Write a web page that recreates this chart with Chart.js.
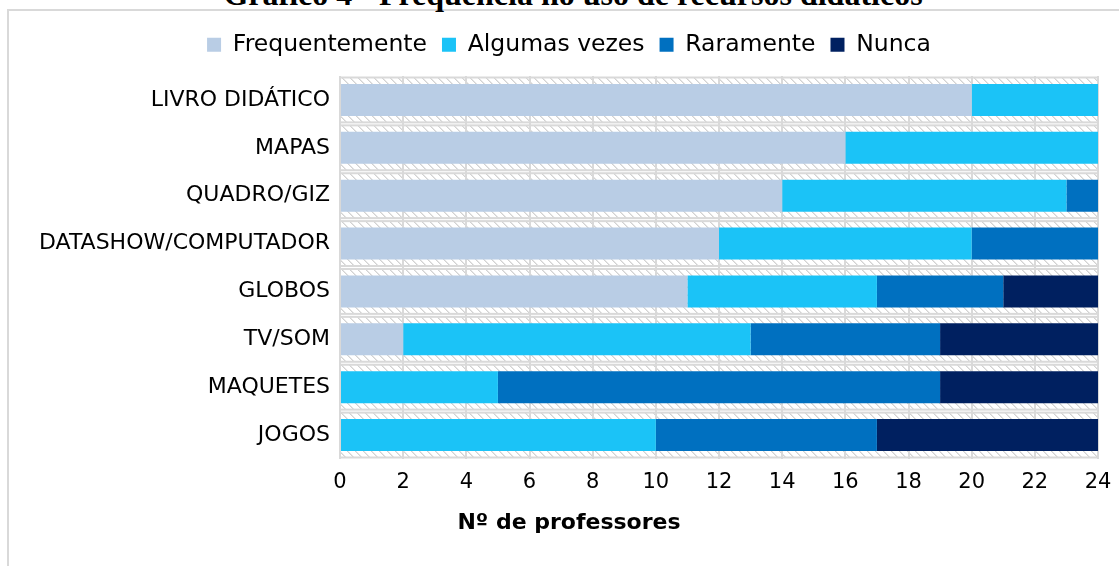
<!DOCTYPE html>
<html><head><meta charset="utf-8">
<script src="https://cdn.jsdelivr.net/npm/chart.js@4/dist/chart.umd.min.js"></script>
<style>
html,body{margin:0;padding:0;background:#fff;overflow:hidden;width:1119px;height:566px;}
#frame{position:absolute;left:7px;top:9px;width:1200px;height:700px;border:2px solid #d9d9d9;box-sizing:border-box;}
#title{position:absolute;left:0;width:1146px;top:-22px;text-align:center;font:bold 32px "Liberation Serif",serif;line-height:32px;color:#000;white-space:nowrap;}
#wrap{position:absolute;left:0;top:0;width:1119px;height:566px;}
</style></head><body>
<div id="frame"></div>
<div id="title">Gráfico 4 - Frequência no uso de recursos didáticos</div>
<div id="wrap"><canvas id="c" width="1119" height="566"></canvas></div>
<script>
const categories = ['LIVRO DIDÁTICO','MAPAS','QUADRO/GIZ','DATASHOW/COMPUTADOR','GLOBOS','TV/SOM','MAQUETES','JOGOS'];
const seriesNames = ['Frequentemente','Algumas vezes','Raramente','Nunca'];
const frequentemente = [20,16,14,12,11,2,0,0];
const algumasVezes   = [4,8,9,8,6,11,5,10];
const raramente      = [0,0,1,4,4,6,14,7];
const nunca          = [0,0,0,0,3,5,5,7];
const xMin = 0, xMax = 24, xStep = 2;
const axisTitle = 'Nº de professores';
const colors = ['#B9CDE5','#1BC3F7','#0070C0','#002060'];

// hatch pattern for the plot background bands
const pc = document.createElement('canvas');
pc.width = 8; pc.height = 8;
const pctx = pc.getContext('2d');
pctx.fillStyle = '#d2d2d2';
for (let i = 0; i < 8; i++) { pctx.fillRect(i, i, 1, 1); }
pctx.fillStyle = '#e6e6e6';
for (let i = 0; i < 8; i++) { pctx.fillRect((i + 1) % 8, i, 1, 1); }
let hatch = null;

const bandPlugin = {
  id: 'bands',
  beforeDraw(chart) {
    const {ctx, chartArea: a, scales: {y}} = chart;
    if (!hatch) hatch = ctx.createPattern(pc, 'repeat');
    const n = categories.length;
    const h = (a.bottom - a.top) / n;
    ctx.save();
    for (let i = 0; i < n; i++) {
      const c = y.getPixelForValue(i);
      const top = c - h / 2;
      ctx.fillStyle = hatch;
      ctx.fillRect(a.left, top + 1.5, a.right - a.left, h - 3);
      ctx.strokeStyle = '#d9d9d9';
      ctx.lineWidth = 2;
      ctx.strokeRect(a.left, top + 1.5, a.right - a.left, h - 3);
    }
    ctx.restore();
  }
};

const dataArrays = [frequentemente, algumasVezes, raramente, nunca];
const datasets = seriesNames.map((name, i) => ({
  label: name,
  data: dataArrays[i],
  backgroundColor: colors[i],
  borderWidth: 0,
  barPercentage: 1,
  categoryPercentage: 0.67
}));

Chart.defaults.font.family = '"DejaVu Sans", sans-serif';
Chart.defaults.color = '#000';

new Chart(document.getElementById('c'), {
  type: 'bar',
  data: { labels: categories, datasets },
  plugins: [bandPlugin],
  options: {
    indexAxis: 'y',
    responsive: false,
    animation: false,
    devicePixelRatio: 1,
    layout: { padding: { left: 40, right: 21, top: 18, bottom: 0 } },
    plugins: {
      tooltip: { enabled: false },
      legend: {
        position: 'top',
        labels: { boxWidth: 14, boxHeight: 14, padding: 15, font: { size: 23.5 }, color: '#000' }
      },
      subtitle: {
        display: true, text: '', weight: 500,
        padding: { top: 0, bottom: 8.3 }, font: { size: 1 }
      },
      title: {
        display: true, position: 'bottom', text: axisTitle, color: '#000',
        font: { size: 22, weight: 'bold' }, padding: { top: 0, bottom: 30 }
      }
    },
    scales: {
      y: {
        type: 'category',
        stacked: true,
        grid: { display: false, drawTicks: false },
        border: { display: false },
        ticks: { font: { size: 22 }, color: '#000', padding: 10 },
        afterFit(s) { s.width = 300; }
      },
      x: {
        stacked: true,
        min: xMin, max: xMax,
        ticks: { stepSize: xStep, font: { size: 21 }, color: '#000', padding: 11 },
        grid: { color: '#d9d9d9', lineWidth: 2, drawTicks: false },
        border: { display: false },
        title: { display: false },
        afterFit(s) { s.height = 50.6; s.paddingRight = 0; s.paddingLeft = 0; }
      }
    }
  }
});
</script>
</body></html>
